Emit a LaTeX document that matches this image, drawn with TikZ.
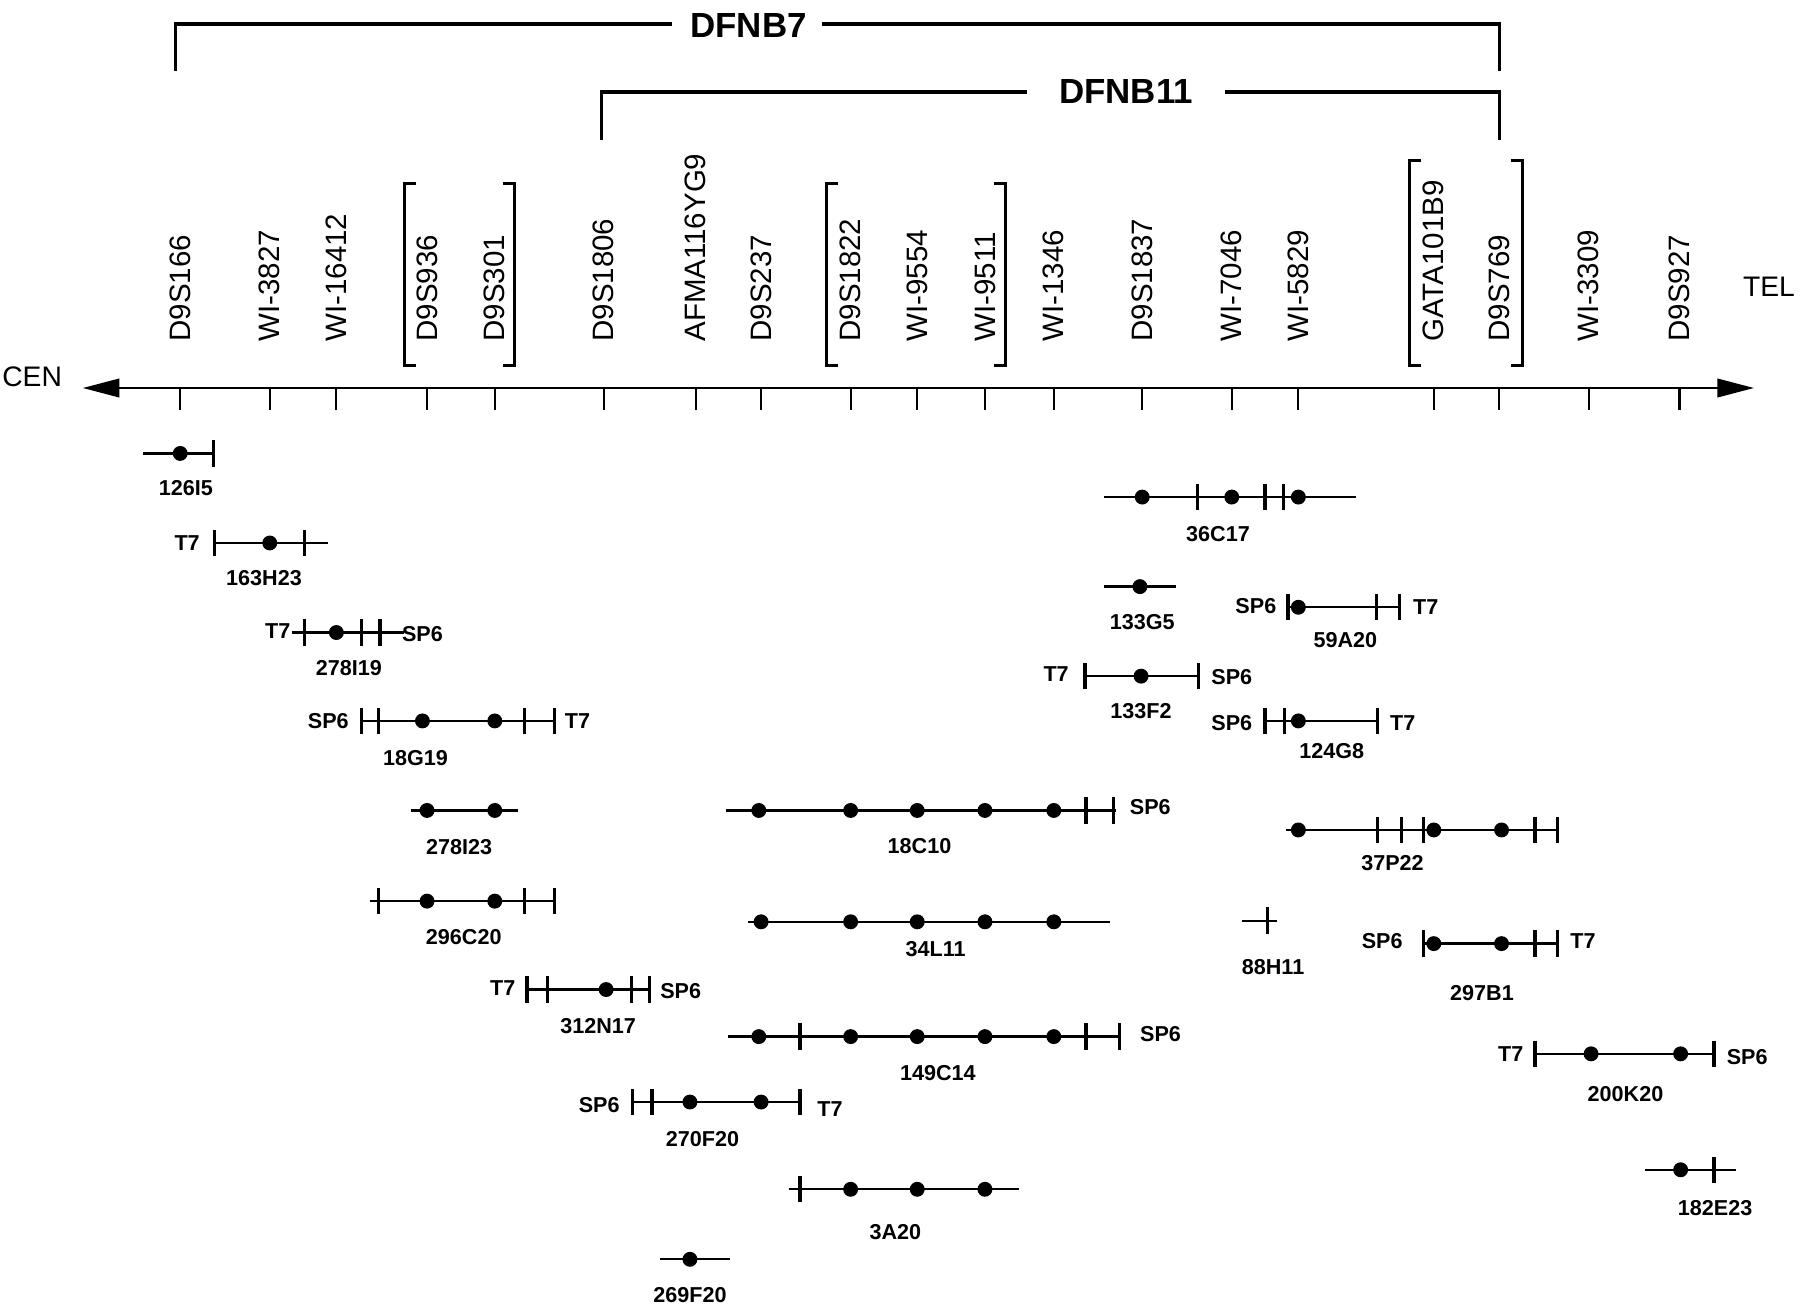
\documentclass[tikz,border=0pt]{standalone}
\usepackage{fontspec}
\setmainfont{Liberation Sans}
\usetikzlibrary{arrows.meta}
\tikzset{
  axisline/.style={line width=1.2pt},
  axtick/.style={line width=0.9pt},
  cline/.style={line width=1.0pt},
  ctick/.style={line width=1.45pt},
  brk/.style={line width=1.3pt},
  regline/.style={line width=1.5pt},
  mlab/.style={rotate=90, anchor=west, inner sep=0pt, font=\fontsize{12.85}{14}\selectfont},
  endlab/.style={inner sep=0pt, font=\fontsize{12.3}{14}\selectfont},
  clab/.style={inner sep=0pt, font=\fontsize{9.4}{11}\selectfont\bfseries},
  plab/.style={inner sep=0pt, font=\fontsize{9.4}{11}\selectfont\bfseries},
  region/.style={inner sep=0pt, font=\fontsize{15.2}{17}\selectfont\bfseries},
}
\newcommand\cloneline[3]{\draw[cline] (#2,#1) -- (#3,#1);}
\newcommand\cloneticks[2]{\foreach \t in {#2} {\draw[ctick] (\t,{#1-11.5}) -- (\t,{#1+11.5});}}
\newcommand\clonedots[2]{\foreach \d in {#2} {\fill (\d,#1) circle[radius=6.5];}}
\begin{document}
\begin{tikzpicture}[x=0.5pt,y=-0.5pt]
\useasboundingbox (0,0) rectangle (1568,1138);

% region brackets
\node[region] (dfnb7) at (652,22) {DFNB7};
\draw[regline] (585,21) -- (153,21) -- (153,62);
\draw[regline] (716,21) -- (1306,21) -- (1306,62);
\node[region] (dfnb11) at (981,80) {DFNB11};
\draw[regline] (895,80) -- (524,80) -- (524,122);
\draw[regline] (1067,80) -- (1306,80) -- (1306,122);

% axis
\draw[axisline, {Triangle[length=16pt,width=8pt]}-{Triangle[length=16pt,width=8pt]}] (72,338) -- (1528,338);
\node[endlab] (cen) at (28,328) {CEN};
\node[endlab] (tel) at (1541,250) {TEL};

% markers
\foreach \x/\n in {157/D9S166, 235/WI-3827, 293/WI-16412, 372/D9S936, 431/D9S301,
  526/D9S1806, 606/AFMA116YG9, 663/D9S237, 741/D9S1822, 799/WI-9554, 858/WI-9511,
  918/WI-1346, 995/D9S1837, 1073/WI-7046, 1131/WI-5829, 1249/GATA101B9, 1306/D9S769,
  1384/WI-3309, 1463/D9S927} {
  \node[mlab] (m\n) at (\x,298) {\n};
  \draw[axtick] (\x,338) -- (\x,357);
}

% marker group brackets
\draw[brk] (362,160) -- (352,160) -- (352,318) -- (362,318);
\draw[brk] (438,160) -- (448,160) -- (448,318) -- (438,318);
\draw[brk] (730,160) -- (720,160) -- (720,318) -- (730,318);
\draw[brk] (866,160) -- (876,160) -- (876,318) -- (866,318);
\draw[brk] (1238,140) -- (1228,140) -- (1228,318) -- (1238,318);
\draw[brk] (1316,140) -- (1326,140) -- (1326,318) -- (1316,318);

% 126I5
\cloneline{395}{125}{187}\cloneticks{395}{186}\clonedots{395}{157}
\node[clab] (c126I5) at (162,425) {126I5};
% 163H23
\cloneline{473}{187}{286}\cloneticks{473}{187,265}\clonedots{473}{235}
\node[plab] (t163) at (163,473) {T7};
\node[clab] (c163H23) at (230,504) {163H23};
% 278I19
\cloneline{551}{254}{352}\cloneticks{551}{265,315,331}\clonedots{551}{293}
\node[plab] (t278a) at (242,550) {T7};
\node[plab] (s278a) at (368,552) {SP6};
\node[clab] (c278I19) at (304,582) {278I19};
% 18G19
\cloneline{628}{315}{483}\cloneticks{628}{315,330,457,483}\clonedots{628}{368,431}
\node[plab] (s18) at (286,628) {SP6};
\node[plab] (t18) at (503,628) {T7};
\node[clab] (c18G19) at (362,660) {18G19};
% 278I23
\cloneline{706}{358}{451}\clonedots{706}{372,431}
\node[clab] (c278I23) at (400,738) {278I23};
% 296C20
\cloneline{785}{322}{483}\cloneticks{785}{330,457,483}\clonedots{785}{372,431}
\node[clab] (c296C20) at (404,816) {296C20};
% 312N17
\cloneline{862}{459}{566}\cloneticks{862}{459,477,550,566}\clonedots{862}{528}
\node[plab] (t312) at (438,861) {T7};
\node[plab] (s312) at (593,863) {SP6};
\node[clab] (c312N17) at (521,894) {312N17};
% 270F20
\cloneline{960}{551}{697}\cloneticks{960}{551,568,697}\clonedots{960}{601,663}
\node[plab] (s270) at (522,963) {SP6};
\node[plab] (t270) at (723,966) {T7};
\node[clab] (c270F20) at (612,992) {270F20};
% 269F20
\cloneline{1097}{575}{636}\clonedots{1097}{601}
\node[clab] (c269F20) at (601,1128) {269F20};
% 18C10
\cloneline{706}{632}{972}\cloneticks{706}{946,970}\clonedots{706}{661,741,799,858,918}
\node[plab] (s18c) at (1002,703) {SP6};
\node[clab] (c18C10) at (801,737) {18C10};
% 34L11
\cloneline{803}{652}{967}\clonedots{803}{663,741,799,858,918}
\node[clab] (c34L11) at (815,827) {34L11};
% 149C14
\cloneline{903}{634}{975}\cloneticks{903}{697,946,975}\clonedots{903}{661,741,799,858,918}
\node[plab] (s149) at (1011,901) {SP6};
\node[clab] (c149C14) at (817,935) {149C14};
% 3A20
\cloneline{1036}{687}{888}\cloneticks{1036}{697}\clonedots{1036}{741,799,858}
\node[clab] (c3A20) at (780,1073) {3A20};
% 36C17
\cloneline{433}{962}{1181}\cloneticks{433}{1043,1102,1118}\clonedots{433}{995,1073,1131}
\node[clab] (c36C17) at (1061,465) {36C17};
% 133G5
\cloneline{511}{962}{1024}\clonedots{511}{993}
\node[clab] (c133G5) at (995,542) {133G5};
% 59A20
\cloneline{529}{1122}{1219}\cloneticks{529}{1122,1199,1219}\clonedots{529}{1131}
\node[plab] (s59) at (1094,528) {SP6};
\node[plab] (t59) at (1242,529) {T7};
\node[clab] (c59A20) at (1172,558) {59A20};
% 133F2
\cloneline{589}{945}{1044}\cloneticks{589}{945,1044}\clonedots{589}{994}
\node[plab] (t133) at (920,587) {T7};
\node[plab] (s133) at (1073,590) {SP6};
\node[clab] (c133F2) at (994,619) {133F2};
% 124G8
\cloneline{628}{1102}{1200}\cloneticks{628}{1102,1119,1200}\clonedots{628}{1131}
\node[plab] (s124) at (1073,630) {SP6};
\node[plab] (t124) at (1222,630) {T7};
\node[clab] (c124G8) at (1160,654) {124G8};
% 37P22
\cloneline{723}{1120}{1357}\cloneticks{723}{1200,1221,1240,1337,1357}\clonedots{723}{1131,1249,1308}
\node[clab] (c37P22) at (1213,752) {37P22};
% 88H11
\cloneline{802}{1082}{1112}\cloneticks{802}{1104}
\node[clab] (c88H11) at (1109,842) {88H11};
% 297B1
\cloneline{822}{1240}{1357}\cloneticks{822}{1240,1337,1357}\clonedots{822}{1249,1308}
\node[plab] (s297) at (1204,820) {SP6};
\node[plab] (t297) at (1379,820) {T7};
\node[clab] (c297B1) at (1291,865) {297B1};
% 200K20
\cloneline{918}{1337}{1493}\cloneticks{918}{1337,1493}\clonedots{918}{1386,1464}
\node[plab] (t200) at (1316,918) {T7};
\node[plab] (s200) at (1522,921) {SP6};
\node[clab] (c200K20) at (1416,953) {200K20};
% 182E23
\cloneline{1019}{1433}{1512}\cloneticks{1019}{1493}\clonedots{1019}{1464}
\node[clab] (c182E23) at (1494,1052) {182E23};
\end{tikzpicture}
\end{document}
